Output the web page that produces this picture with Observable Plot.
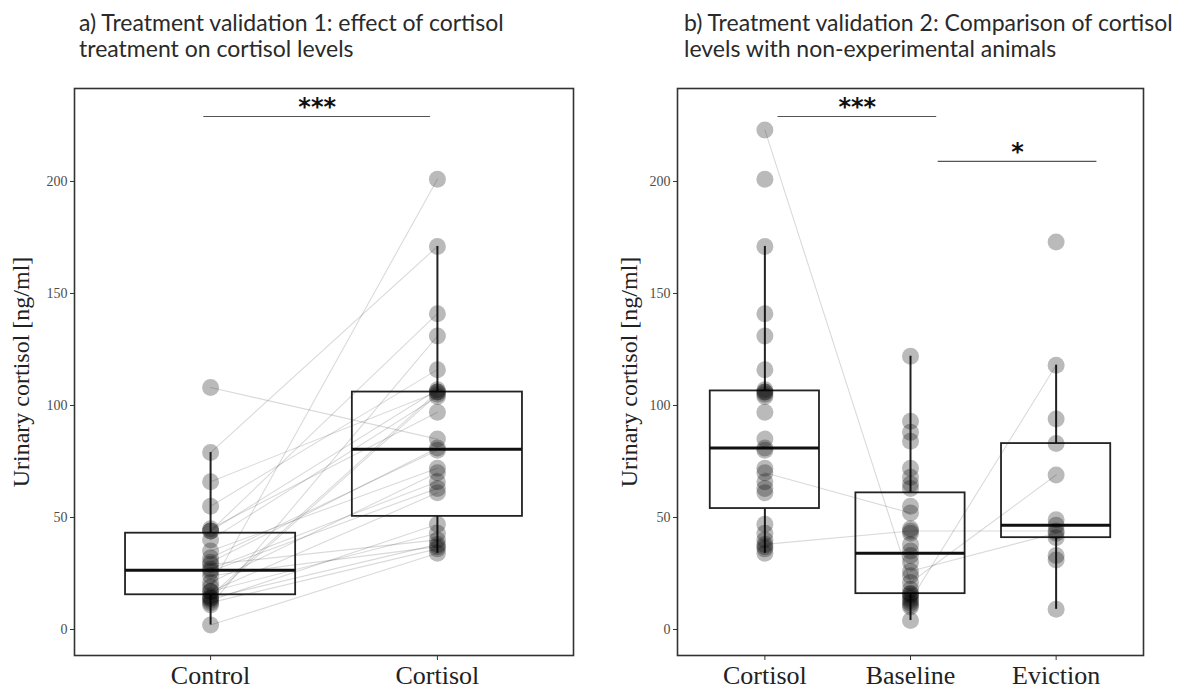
<!DOCTYPE html>
<html><head><meta charset="utf-8">
<script src="https://cdn.jsdelivr.net/npm/d3@7"></script>
<script src="https://cdn.jsdelivr.net/npm/@observablehq/plot@0.6"></script>
<style>
body{margin:0;background:#fff;width:1192px;height:691px;overflow:hidden;position:relative;}
.title{position:absolute;font-family:Lato,"Open Sans",sans-serif;font-size:23px;line-height:26px;color:#2a2a2a;white-space:nowrap;}
.panel{position:absolute;top:70px;}
</style></head><body>
<div class="title" style="left:79px;top:9px">a) Treatment validation 1: effect of cortisol<br>treatment on cortisol levels</div>
<div class="title" style="left:684px;top:9px">b) Treatment validation 2: Comparison of cortisol<br>levels with non-experimental animals</div>
<div id="left" class="panel" style="left:0px"></div>
<div id="right" class="panel" style="left:600px"></div>
<script>
// ---- data (ng/ml) ----
const leftCategories = ["Control", "Cortisol"];
const leftControl  = [108, 79, 66, 55, 45, 44, 44, 40, 35, 32, 30, 29, 27, 26, 24, 21, 19, 17, 17, 15, 14, 14, 13, 12, 11, 2];
const leftCortisol = [85, 171, 106, 116, 97, 141, 107, 104, 72, 80, 81, 40, 66, 63, 37, 70, 201, 61, 43, 106, 105, 38, 47, 36, 131, 34];

const rightCategories = ["Cortisol", "Baseline", "Eviction"];
const rightCortisol = [223, ...leftCortisol];
const rightBaseline = [4, 10, 11, 12, 13, 14, 15, 16, 16, 18, 21, 24, 26, 30, 33, 35, 38, 43, 44, 45, 52, 55, 63, 65, 68, 72, 84, 88, 93, 122];
const rightEviction = [9, 31, 33, 41, 43, 44, 46.5, 49, 69, 83, 94, 118, 173];

// individuals followed across groups in panel b
const linkCortisol = [223, 70, 38, null, null];
const linkBaseline = [21, 52, 44, 13, 26];
const linkEviction = [69, null, 44, 118, 43];

const leftSig  = [{x1: 0.97, x2: 1.97, y: 229, label: "***"}];
const rightSig = [{x1: 1.09, x2: 2.18, y: 229, label: "***"}, {x1: 2.19, x2: 3.28, y: 209, label: "*"}];

const yTicks = [0, 50, 100, 150, 200];
const yDomain = [-11.6, 241.5];
const yLabel = "Urinary cortisol [ng/ml]";

// ---- helpers ----
function stats(groups) {
  return groups.map((vals, i) => {
    const v = vals.filter(d => d != null).sort(d3.ascending);
    const q1 = d3.quantile(v, 0.25), med = d3.quantile(v, 0.5), q3 = d3.quantile(v, 0.75);
    const iqr = q3 - q1;
    return {x: i + 1, q1, med, q3,
      lo: d3.min(v.filter(d => d >= q1 - 1.5 * iqr)),
      hi: d3.max(v.filter(d => d <= q3 + 1.5 * iqr))};
  });
}

function panel({cats, groups, links, sig, width, marginLeft, marginRight, labelDx}) {
  const n = cats.length;
  const points = groups.flatMap((vals, i) => vals.map(y => ({x: i + 1, y})));
  const linkRows = links.flatMap((series, i) => series.map((y, id) => ({id, x: i + 1, y})));
  const st = stats(groups);
  const half = 0.375;
  return Plot.plot({
    width, height: 621,
    marginLeft, marginRight, marginTop: 18, marginBottom: 36,
    style: {fontFamily: "'Liberation Serif', serif", background: "#fff", color: "#333"},
    x: {type: "linear", domain: [0.4, n + 0.6]},
    y: {domain: yDomain},
    marks: [
      Plot.line(linkRows, {x: "x", y: "y", z: "id", stroke: "#000", strokeOpacity: 0.15, strokeWidth: 1.1}),
      Plot.ruleX(st, {x: "x", y1: "lo", y2: "q1", stroke: "#222", strokeWidth: 2}),
      Plot.ruleX(st, {x: "x", y1: "q3", y2: "hi", stroke: "#222", strokeWidth: 2}),
      Plot.rect(st, {x1: d => d.x - half, x2: d => d.x + half, y1: "q1", y2: "q3", fill: "none", stroke: "#222", strokeWidth: 1.8}),
      Plot.ruleY(st, {x1: d => d.x - half, x2: d => d.x + half, y: "med", stroke: "#111", strokeWidth: 3}),
      Plot.dot(points, {x: "x", y: "y", r: 8.5, fill: "#000", fillOpacity: 0.27, stroke: "none"}),
      Plot.ruleY(sig, {x1: "x1", x2: "x2", y: "y", stroke: "#555", strokeWidth: 1.2}),
      Plot.text(sig, {x: d => (d.x1 + d.x2) / 2, y: "y", text: "label", dy: -9, fontSize: 24, fontWeight: "bold", fontFamily: "'DejaVu Sans', sans-serif", fill: "#111", letterSpacing: "6px"}),
      Plot.frame({stroke: "#333", strokeWidth: 1.6}),
      Plot.axisY({ticks: yTicks, tickSize: 4, tickPadding: 3, fontSize: 14, fill: "#4d4d4d", stroke: "#333", label: null}),
      Plot.axisX({ticks: d3.range(1, n + 1), tickFormat: d => cats[d - 1], tickSize: 5, tickPadding: 5, fontSize: 26, fill: "#222", stroke: "#333", label: null}),
      Plot.text([yLabel], {frameAnchor: "left", textAnchor: "middle", rotate: -90, dx: labelDx, fontSize: 24, fill: "#222", text: d => d})
    ]
  });
}

document.getElementById("left").append(panel({
  cats: leftCategories, groups: [leftControl, leftCortisol], links: [leftControl, leftCortisol],
  sig: leftSig, width: 600, marginLeft: 74, marginRight: 27, labelDx: -53
}));
document.getElementById("right").append(panel({
  cats: rightCategories, groups: [rightCortisol, rightBaseline, rightEviction], links: [linkCortisol, linkBaseline, linkEviction],
  sig: rightSig, width: 592, marginLeft: 77, marginRight: 49, labelDx: -48
}));
</script>
</body></html>
